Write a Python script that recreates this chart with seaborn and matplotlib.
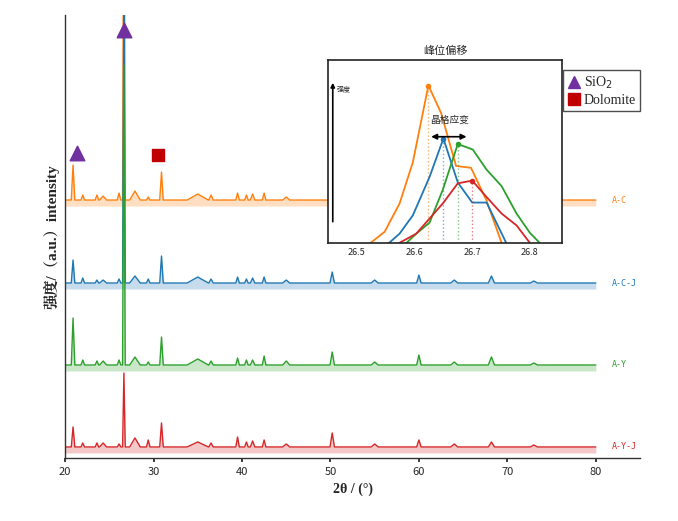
import matplotlib
matplotlib.use("Agg")
import matplotlib.pyplot as plt
import seaborn as sns
import numpy as np
import pandas as pd

sns.set_theme(style="white")
plt.rcParams['font.family'] = ['Noto Sans CJK SC', 'DejaVu Sans']

names = ["A-C", "A-C-J", "A-Y", "A-Y-J"]
colors = ["#ff7f0e", "#1f77b4", "#2ca02c", "#d62728"]
baselines = [258, 175, 93, 11]
peak_pos = [20.9, 22.0, 23.6, 24.3, 26.1, 26.65, 27.9, 29.4, 30.9, 35.0, 36.5, 39.5, 40.5, 41.2, 42.5, 45.0, 50.2, 55.0, 60.0, 64.0, 68.2, 73.0]
peak_w   = [0.2, 0.2, 0.2, 0.4, 0.2, 0.15, 0.6, 0.2, 0.2, 1.2, 0.25, 0.2, 0.2, 0.25, 0.2, 0.4, 0.25, 0.4, 0.25, 0.4, 0.35, 0.4]
heights = {
    "A-C":   [35, 5, 5, 4, 7, 430, 9, 3, 28, 6, 5, 7, 5, 6, 7, 3, 9, 3, 5, 3, 4, 2],
    "A-C-J": [23, 5, 3, 3, 4, 290, 7, 4, 27, 6, 4, 6, 4, 5, 6, 3, 11, 3, 8, 3, 7, 2],
    "A-Y":   [47, 5, 4, 4, 5, 300, 8, 3, 28, 6, 4, 7, 5, 5, 9, 4, 13, 3, 10, 3, 8, 2],
    "A-Y-J": [20, 4, 4, 4, 3, 74, 9, 7, 24, 5, 4, 10, 5, 6, 7, 3, 14, 3, 7, 3, 5, 2],
}

inset = {
    "A-C":   ([26.524, 26.548, 26.574, 26.597, 26.624, 26.646, 26.672, 26.698, 26.725, 26.751],
              [0, 0.06, 0.215, 0.44, 0.86, 0.71, 0.42, 0.41, 0.23, 0]),
    "A-C-J": ([26.556, 26.574, 26.597, 26.626, 26.650, 26.675, 26.700, 26.725, 26.759],
              [0, 0.05, 0.15, 0.36, 0.57, 0.33, 0.22, 0.22, 0]),
    "A-Y":   ([26.586, 26.603, 26.626, 26.649, 26.675, 26.701, 26.725, 26.751, 26.777, 26.800, 26.817],
              [0, 0.05, 0.11, 0.29, 0.54, 0.51, 0.40, 0.31, 0.16, 0.055, 0]),
    "A-Y-J": ([26.574, 26.603, 26.649, 26.675, 26.700, 26.725, 26.751, 26.777, 26.800],
              [0, 0.05, 0.215, 0.325, 0.34, 0.25, 0.16, 0.095, 0]),
}
inset_peaks = {"A-C": (26.624, 0.86), "A-C-J": (26.650, 0.57), "A-Y": (26.675, 0.54), "A-Y-J": (26.700, 0.34)}

fig = plt.figure(figsize=(6.78, 5.21), dpi=100)
ax = fig.add_axes([0.096, 0.121, 0.848, 0.85])

for n, c, b in zip(names, colors, baselines):
    xs, ys = [20.0], [b]
    for p, w, h in zip(peak_pos, peak_w, heights[n]):
        xs += [p - w, p, p + w]
        ys += [b, b + h, b]
    xs.append(80.0); ys.append(b)
    df = pd.DataFrame({"x": xs, "y": ys})
    sns.lineplot(data=df, x="x", y="y", ax=ax, color=c, lw=1.0, sort=False)
    ax.fill_between(xs, b - 6, ys, color=c, alpha=0.25, lw=0)
    ax.text(81.8, b, n, color=c, fontsize=6, ha="left", va="center", family="DejaVu Sans Mono")

ax.scatter([21.3], [305], marker="^", s=110, color="#7030A0", zorder=5)
ax.scatter([30.5], [303], marker="s", s=80, color="#C00000", zorder=5)
ax.scatter([26.65], [428], marker="^", s=110, color="#7030A0", zorder=5)

ax.set_xlim(20, 85)
ax.set_ylim(0, 443)
ax.set_yticks([])
ax.set_xticks([20, 30, 40, 50, 60, 70, 80])
ax.tick_params(axis="x", labelsize=8, length=3, direction="out", bottom=True)
for s in ["top", "right"]:
    ax.spines[s].set_visible(False)
for s in ["left", "bottom"]:
    ax.spines[s].set_color("#333333"); ax.spines[s].set_linewidth(1.0)
ax.set_xlabel("2θ / (°)", fontsize=10, fontweight="bold", family=["Liberation Serif", "Noto Sans CJK SC"])
ax.set_ylabel("强度/（a.u.）intensity", fontsize=11, fontweight="bold", family=["Liberation Serif", "Noto Serif CJK SC", "Noto Sans CJK SC"])

# inset
ia = fig.add_axes([0.484, 0.534, 0.345, 0.351])
ia.set_zorder(10)
for n, c in zip(names, colors):
    xs, ys = inset[n]
    sns.lineplot(x=xs, y=ys, ax=ia, color=c, lw=1.3, sort=False)
    px, py = inset_peaks[n]
    ia.plot([px], [py], "o", color=c, ms=3)
    ia.plot([px, px], [0, py], ls=":", color=c, lw=1, alpha=0.6)
ia.set_xlim(26.45, 26.856)
ia.set_ylim(0, 1)
ia.set_yticks([])
ia.set_xticks([26.5, 26.6, 26.7, 26.8])
ia.set_xticklabels(["26.5", "26.6", "26.7", "26.8"])
ia.tick_params(axis="x", labelsize=6.5, length=0, pad=4)
for s in ia.spines.values():
    s.set_color("#222222"); s.set_linewidth(1.2)
ia.set_title("峰位偏移", fontsize=8, pad=4)
ia.annotate("", xy=(26.624, 0.58), xytext=(26.695, 0.58),
            arrowprops=dict(arrowstyle="<|-|>", color="black", lw=1.2, mutation_scale=8))
ia.text(26.66, 0.67, "晶格应变", fontsize=7, ha="center", va="center")
ia.annotate("", xy=(26.458, 0.89), xytext=(26.458, 0.1),
            arrowprops=dict(arrowstyle="-|>", color="black", lw=1.2, mutation_scale=6))
ia.text(26.465, 0.84, "强度", fontsize=5, ha="left", va="center")

from matplotlib.lines import Line2D
handles = [Line2D([], [], marker="^", ls="", color="#7030A0", ms=9),
           Line2D([], [], marker="s", ls="", color="#C00000", ms=8)]
leg = fig.legend(handles, ["SiO$_2$", "Dolomite"], loc="upper left", bbox_to_anchor=(0.83, 0.865),
                 prop={"family": "Liberation Serif", "size": 10}, frameon=True, fancybox=False,
                 handletextpad=0.2, borderpad=0.3, handlelength=1.0, labelspacing=0.2, borderaxespad=0)
leg.get_frame().set_edgecolor("#222222"); leg.get_frame().set_linewidth(1.0)
leg.set_zorder(20)

fig.savefig("out.png", dpi=100)
